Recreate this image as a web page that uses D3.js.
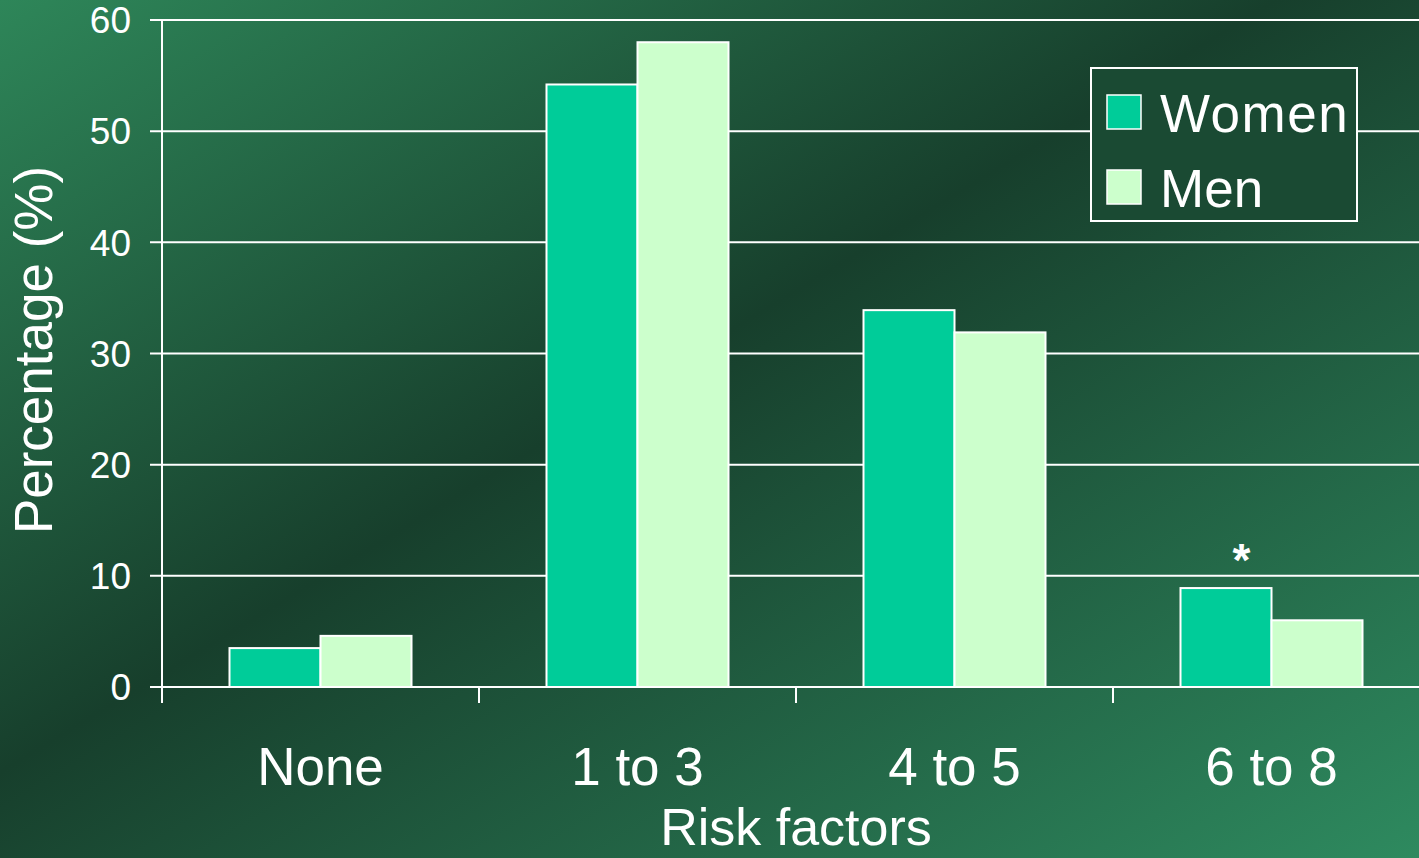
<!DOCTYPE html>
<html>
<head>
<meta charset="utf-8">
<script src="https://cdn.jsdelivr.net/npm/d3@7"></script>
<style>
html,body{margin:0;padding:0;overflow:hidden;background:#1a4a33;}
svg{display:block;font-family:"Liberation Sans",Arial,sans-serif;}
</style>
</head>
<body>
<svg id="chart" width="1419" height="858"></svg>
<script>
const categories = ["None", "1 to 3", "4 to 5", "6 to 8"];
const seriesNames = ["Women", "Men"];
const women = [3.5, 54.2, 33.9, 8.9];
const men = [4.6, 58.0, 31.9, 6.0];
const yTicks = [0, 10, 20, 30, 40, 50, 60];
const colors = ["#00cc99", "#ccffcc"];

const svg = d3.select("#chart");
const W = 1419, H = 858;

// background gradient
const defs = svg.append("defs");
const grad = defs.append("linearGradient").attr("id", "bg")
  .attr("x1", 0).attr("y1", 0).attr("x2", 1).attr("y2", 1);
grad.append("stop").attr("offset", "0").attr("stop-color", "#2e8659");
grad.append("stop").attr("offset", "0.45").attr("stop-color", "#173f2c");
grad.append("stop").attr("offset", "1").attr("stop-color", "#2e8a5f");
svg.append("rect").attr("width", W).attr("height", H).attr("fill", "url(#bg)");

const x0 = d3.scaleBand().domain(categories).range([162, 1430]).paddingInner(0).paddingOuter(0);
const groupW = 182;
const x1 = d3.scaleBand().domain(seriesNames).range([0, groupW]);
const y = d3.scaleLinear().domain([0, 60]).range([687, 20]);

const data = categories.map((c, i) => ({cat: c, vals: [women[i], men[i]]}));

// gridlines
svg.append("g").selectAll("line").data(yTicks).join("line")
  .attr("x1", 150).attr("x2", W)
  .attr("y1", d => y(d)).attr("y2", d => y(d))
  .attr("stroke", "#fff").attr("stroke-width", 2);

// y tick labels
svg.append("g").selectAll("text").data(yTicks).join("text")
  .attr("x", 131).attr("y", d => y(d)).attr("dy", "0.36em")
  .attr("text-anchor", "end").attr("fill", "#fff")
  .attr("font-size", 37).text(d => d);

// bars
const groups = svg.append("g").selectAll("g").data(data).join("g")
  .attr("transform", d => `translate(${x0(d.cat) + (x0.bandwidth() - groupW) / 2},0)`);
groups.selectAll("rect").data(d => d.vals.map((v, j) => ({s: seriesNames[j], v, j})))
  .join("rect")
  .attr("x", d => x1(d.s)).attr("width", x1.bandwidth())
  .attr("y", d => y(d.v)).attr("height", d => y(0) - y(d.v))
  .attr("fill", d => colors[d.j]).attr("stroke", "#fff").attr("stroke-width", 2);

// y axis line
svg.append("line").attr("x1", 162).attr("x2", 162).attr("y1", 20).attr("y2", 703)
  .attr("stroke", "#fff").attr("stroke-width", 2);
// category tick marks
svg.append("g").selectAll("line").data(categories).join("line")
  .attr("x1", d => x0(d)).attr("x2", d => x0(d))
  .attr("y1", 687).attr("y2", 703)
  .attr("stroke", "#fff").attr("stroke-width", 2);

// category labels
svg.append("g").selectAll("text").data(categories).join("text")
  .attr("x", d => x0(d) + x0.bandwidth() / 2).attr("y", 785)
  .attr("text-anchor", "middle").attr("fill", "#fff").attr("font-size", 53)
  .text(d => d);

// axis titles
svg.append("text").attr("x", 796).attr("y", 845)
  .attr("text-anchor", "middle").attr("fill", "#fff").attr("font-size", 52)
  .text("Risk factors");
svg.append("text").attr("transform", "translate(52,350) rotate(-90)")
  .attr("text-anchor", "middle").attr("fill", "#fff").attr("font-size", 53)
  .text("Percentage (%)");

// asterisk
svg.append("text").attr("x", x0("6 to 8") + x0.bandwidth() / 2 - 30).attr("y", 576)
  .attr("text-anchor", "middle").attr("fill", "#fff").attr("font-size", 46)
  .attr("font-weight", "bold").text("*");

// legend
const lg = svg.append("g");
lg.append("rect").attr("x", 1091).attr("y", 68).attr("width", 266).attr("height", 153)
  .attr("fill", "#1a4a33").attr("stroke", "#fff").attr("stroke-width", 2);
const items = lg.selectAll("g").data(seriesNames).join("g")
  .attr("transform", (d, i) => `translate(1107,${95 + i * 75})`);
items.append("rect").attr("width", 34).attr("height", 34)
  .attr("fill", (d, i) => colors[i]).attr("stroke", "#fff").attr("stroke-width", 1.5);
items.append("text").attr("x", 53).attr("y", 37).attr("fill", "#fff")
  .attr("font-size", 53).attr("letter-spacing", d => d === "Women" ? 1.5 : 0)
  .text(d => d);
</script>
</body>
</html>
